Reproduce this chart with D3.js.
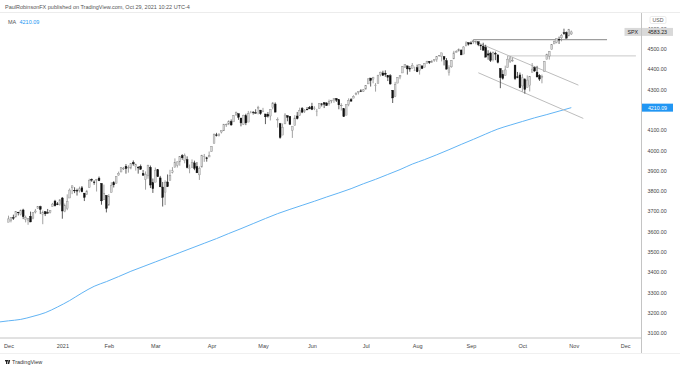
<!DOCTYPE html>
<html><head><meta charset="utf-8">
<script src="https://cdn.jsdelivr.net/npm/d3@7"></script>
<style>html,body{margin:0;padding:0;background:#fff;} svg{display:block;font-family:"Liberation Sans",Arial,sans-serif;}</style>
</head><body><svg id="chart" width="680" height="370"></svg>
<script>
// SPX daily candles, Dec 1 2020 .. Oct 29 2021 : [open, high, low, close]
const candles = [
[3646,3678,3646,3662],[3654,3671,3645,3669],[3668,3683,3657,3667],[3671,3699,3671,3699],[3695,3697,3679,3692],
[3683,3708,3679,3702],[3706,3712,3661,3673],[3659,3678,3645,3668],[3656,3666,3633,3663],[3675,3698,3646,3647],
[3666,3695,3660,3695],[3696,3711,3689,3701],[3714,3725,3711,3722],[3722,3727,3686,3709],[3684,3703,3636,3695],
[3698,3698,3676,3687],[3693,3711,3689,3690],[3694,3704,3689,3703],[3723,3741,3723,3735],[3750,3756,3723,3727],
[3736,3745,3730,3732],[3733,3760,3727,3756],
[3765,3770,3663,3701],[3698,3738,3695,3727],[3712,3783,3705,3748],[3765,3812,3765,3804],[3815,3827,3784,3825],
[3803,3818,3789,3800],[3802,3811,3777,3801],[3802,3821,3792,3810],[3815,3824,3793,3796],[3789,3789,3750,3768],
[3782,3805,3780,3799],[3816,3860,3816,3852],[3857,3861,3845,3853],[3844,3852,3830,3841],[3852,3859,3797,3855],
[3863,3871,3848,3850],[3837,3837,3732,3751],[3756,3831,3756,3787],[3778,3778,3694,3714],
[3731,3784,3726,3774],[3792,3843,3792,3826],[3840,3848,3817,3830],[3837,3872,3837,3872],[3878,3895,3875,3887],
[3893,3916,3893,3916],[3910,3918,3903,3911],[3921,3932,3885,3910],[3916,3926,3890,3916],[3912,3937,3906,3935],
[3940,3950,3924,3933],[3919,3934,3900,3931],[3916,3922,3885,3914],[3921,3930,3903,3907],[3886,3903,3875,3877],
[3857,3896,3806,3881],[3874,3929,3860,3925],[3916,3925,3814,3829],[3840,3861,3790,3811],
[3843,3915,3843,3902],[3904,3906,3869,3870],[3864,3874,3819,3820],[3819,3844,3723,3768],[3794,3852,3730,3842],
[3844,3881,3819,3821],[3852,3904,3852,3875],[3892,3917,3886,3899],[3916,3960,3916,3939],[3925,3945,3915,3943],
[3943,3970,3924,3969],[3974,3981,3953,3963],[3950,3984,3936,3974],[3954,3970,3911,3915],[3913,3930,3887,3913],
[3916,3955,3914,3941],[3938,3949,3902,3911],[3920,3942,3889,3889],[3879,3920,3854,3910],[3917,3978,3917,3975],
[3969,3982,3943,3971],[3963,3968,3944,3959],[3967,3994,3967,3973],
[3993,4021,3993,4020],[4034,4083,4034,4078],[4076,4086,4068,4074],[4074,4083,4068,4080],[4090,4098,4083,4097],
[4096,4129,4096,4129],[4125,4132,4115,4128],[4130,4148,4124,4142],[4142,4152,4121,4125],[4140,4173,4140,4170],
[4174,4191,4171,4185],[4180,4181,4150,4163],[4159,4159,4118,4135],[4128,4175,4126,4173],[4170,4180,4124,4135],
[4139,4194,4139,4180],[4185,4194,4182,4188],[4188,4193,4176,4187],[4185,4202,4182,4183],[4206,4219,4177,4211],
[4198,4198,4175,4181],
[4192,4209,4188,4193],[4179,4179,4129,4165],[4177,4188,4161,4168],[4169,4203,4147,4202],[4210,4238,4202,4233],
[4228,4236,4188,4188],[4150,4162,4112,4152],[4131,4135,4057,4063],[4075,4132,4075,4113],[4130,4183,4130,4174],
[4170,4172,4143,4163],[4166,4169,4126,4128],[4098,4117,4061,4116],[4122,4173,4122,4159],[4169,4189,4152,4156],
[4170,4210,4170,4197],[4206,4213,4183,4188],[4192,4203,4184,4196],[4202,4213,4198,4201],[4211,4218,4204,4204],
[4217,4234,4198,4202],[4207,4217,4198,4208],[4191,4204,4168,4193],[4206,4233,4206,4230],[4229,4232,4216,4227],
[4234,4237,4208,4227],[4233,4237,4219,4220],[4229,4250,4220,4239],[4243,4248,4232,4247],[4248,4256,4234,4255],
[4255,4257,4238,4247],[4249,4252,4202,4224],[4220,4232,4196,4222],[4205,4205,4164,4166],[4173,4226,4173,4225],
[4225,4256,4217,4246],[4249,4257,4241,4242],[4257,4271,4257,4266],[4274,4286,4271,4281],[4285,4292,4275,4291],
[4293,4301,4287,4292],[4291,4302,4288,4298],
[4301,4321,4301,4320],[4327,4355,4327,4352],[4356,4356,4314,4344],[4351,4362,4330,4358],[4321,4331,4289,4321],
[4329,4372,4329,4370],[4372,4387,4364,4385],[4381,4392,4367,4369],[4380,4394,4362,4374],[4369,4369,4341,4360],
[4367,4375,4323,4327],[4296,4296,4233,4258],[4265,4337,4262,4323],[4331,4360,4331,4359],[4361,4370,4350,4367],
[4381,4415,4381,4412],[4410,4423,4405,4422],[4416,4416,4373,4401],[4403,4415,4387,4401],[4404,4430,4404,4419],
[4395,4412,4390,4395],
[4407,4422,4385,4387],[4393,4424,4373,4423],[4416,4416,4400,4403],[4409,4430,4409,4429],[4429,4441,4429,4437],
[4438,4439,4425,4432],[4436,4445,4430,4437],[4442,4449,4436,4448],[4446,4462,4436,4461],[4465,4468,4461,4468],
[4462,4480,4438,4480],[4462,4462,4418,4448],[4441,4454,4398,4400],[4382,4419,4368,4406],[4411,4444,4407,4442],
[4450,4490,4450,4480],[4484,4493,4482,4486],[4490,4502,4486,4496],[4494,4496,4469,4470],[4474,4513,4474,4509],
[4514,4537,4514,4529],[4530,4531,4516,4523],
[4529,4537,4522,4524],[4534,4546,4525,4537],[4532,4541,4522,4535],[4535,4535,4513,4520],[4518,4522,4494,4514],
[4513,4530,4492,4493],[4507,4520,4458,4459],[4475,4493,4446,4469],[4479,4486,4435,4443],[4447,4487,4438,4481],
[4477,4486,4444,4474],[4470,4472,4428,4433],[4403,4403,4306,4358],[4374,4395,4348,4354],[4367,4417,4367,4396],
[4407,4465,4407,4449],[4438,4463,4430,4455],[4442,4457,4436,4443],[4420,4420,4346,4353],[4362,4386,4355,4359],
[4371,4383,4306,4308],
[4317,4375,4289,4357],[4349,4356,4279,4300],[4310,4369,4310,4346],[4320,4366,4290,4364],[4384,4430,4384,4400],
[4407,4412,4386,4391],[4385,4416,4361,4361],[4368,4375,4342,4351],[4358,4373,4330,4364],[4387,4440,4387,4438],
[4448,4476,4448,4471],[4464,4489,4447,4486],[4497,4520,4496,4520],[4524,4541,4524,4536],[4532,4551,4527,4550],
[4546,4560,4524,4545],[4554,4573,4537,4566],[4579,4599,4569,4575],[4580,4585,4552,4552],[4563,4598,4563,4596],
[4573,4590,4568,4583.23]
];
// 200-period moving average (bar index, value)
const maBars   = [-4,0,5,10,15,20,25,30,35,40,45,50,55,60,65,70,75,80,85,90,95,100,105,110,115,120,125,130,135,140,145,150,155,160,165,170,175,180,185,190,195,200,205,210,215,220,225,230];
const maValues = [3154,3160,3167,3182,3200,3228,3260,3297,3330,3353,3378,3404,3427,3450,3473,3496,3519,3542,3565,3590,3614,3639,3664,3688,3709,3729,3749,3770,3790,3811,3835,3857,3881,3905,3932,3954,3978,4003,4029,4054,4080,4105,4124,4142,4160,4176,4193,4210.09];
// price-axis labels (4200.00 sits under the MA value label in the reference)
const priceTicks = [3100,3200,3300,3400,3500,3600,3700,3800,3900,4000,4100,4300,4400,4500,4600];
const monthLabels = ["Dec","2021","Feb","Mar","Apr","May","Jun","Jul","Aug","Sep","Oct","Nov","Dec"];
const monthStartBars = [0,22,41,60,83,104,124,146,167,189,210,231,252];
// drawn lines: horizontal levels and falling channel (bar, value)
const levelLines = [[190,4545,244.6,4545],[204,4465,256.4,4465]];
const channelLines = [[189.3,4543,232.9,4321],[192,4382,234.9,4157]];
const lastPrice = 4583.23;
const maLast = 4210.09;

const svg = d3.select("#chart");
const W = 680, H = 370;
const plotL = 0, plotR = 641.5, plotT = 13, plotB = 338;
const x = d3.scaleLinear().domain([0, 252]).range([8.5, 8.5 + 252 * 2.447]);
const y = d3.scaleLinear().domain([3100, 4500]).range([333, 48.8]);

svg.append("rect").attr("width", W).attr("height", H).attr("fill", "#fff");
svg.append("defs").append("clipPath").attr("id", "clip")
  .append("rect").attr("x", plotL).attr("y", plotT).attr("width", plotR - plotL).attr("height", plotB - plotT);

// header
svg.append("text").attr("x", 5).attr("y", 9).attr("font-size", 5.5).attr("fill", "#555")
  .text("PaulRobinsonFX published on TradingView.com, Oct 29, 2021 10:22 UTC-4");
svg.append("line").attr("x1", 0).attr("x2", W).attr("y1", 12.5).attr("y2", 12.5).attr("stroke", "#ececec");

const plot = svg.append("g").attr("clip-path", "url(#clip)");

// MA line
const maLine = d3.line().x((d, i) => x(maBars[i])).y(d => y(d)).curve(d3.curveMonotoneX);
plot.append("path").datum(maValues).attr("d", maLine).attr("fill", "none")
  .attr("stroke", "#62b4f4").attr("stroke-width", 1);

// level and channel lines
plot.selectAll(".lvl").data(levelLines).join("line")
  .attr("x1", d => x(d[0])).attr("y1", d => y(d[1])).attr("x2", d => x(d[2])).attr("y2", d => y(d[3]))
  .attr("stroke", (d, i) => i === 0 ? "#9e9e9e" : "#c9c9c9").attr("stroke-width", (d, i) => i === 0 ? 1.3 : 1);
plot.selectAll(".chn").data(channelLines).join("line")
  .attr("x1", d => x(d[0])).attr("y1", d => y(d[1])).attr("x2", d => x(d[2])).attr("y2", d => y(d[3]))
  .attr("stroke", "#bdbdbd").attr("stroke-width", 1);

// candles
const cg = plot.append("g");
cg.selectAll(".wick").data(candles).join("line")
  .attr("x1", (d, i) => x(i)).attr("x2", (d, i) => x(i))
  .attr("y1", d => y(d[1])).attr("y2", d => y(d[2]))
  .attr("stroke", d => d[3] >= d[0] ? "#8a8a8a" : "#333").attr("stroke-width", 0.8);
cg.selectAll(".body").data(candles).join("rect")
  .attr("x", (d, i) => x(i) - 0.9).attr("width", 1.8)
  .attr("y", d => y(Math.max(d[0], d[3])))
  .attr("height", d => Math.max(0.6, Math.abs(y(d[0]) - y(d[3]))))
  .attr("fill", d => d[3] >= d[0] ? "#d6d6d6" : "#111")
  .attr("stroke", d => d[3] >= d[0] ? "#8a8a8a" : "#111").attr("stroke-width", 0.4);

// MA legend
const leg = svg.append("text").attr("x", 8).attr("y", 24).attr("font-size", 5.5);
leg.append("tspan").attr("fill", "#555").text("MA ");
leg.append("tspan").attr("fill", "#2196f3").attr("dx", 2).text(maLast.toFixed(2));

// axes
svg.append("line").attr("x1", plotR).attr("x2", plotR).attr("y1", plotT).attr("y2", H - 17)
  .attr("stroke", "#c4c4c4");
svg.append("line").attr("x1", 0).attr("x2", plotR).attr("y1", plotB).attr("y2", plotB)
  .attr("stroke", "#c4c4c4");

const ya = svg.append("g").attr("transform", `translate(${plotR},0)`)
  .call(d3.axisRight(y).tickValues(priceTicks).tickSize(0).tickPadding(6).tickFormat(d => d.toFixed(2)));
ya.select(".domain").remove();
ya.selectAll("text").attr("font-size", 5.3).attr("fill", "#444").attr("font-family", "Liberation Sans, Arial, sans-serif");

const xa = svg.append("g").attr("transform", `translate(0,${plotB})`)
  .call(d3.axisBottom(x).tickValues(monthStartBars).tickSize(0).tickPadding(6).tickFormat((d, i) => monthLabels[i]));
xa.select(".domain").remove();
xa.selectAll("text").attr("font-size", 5.5).attr("fill", "#444").attr("font-family", "Liberation Sans, Arial, sans-serif");

// USD box
svg.append("rect").attr("x", 650).attr("y", 16.5).attr("width", 16).attr("height", 7).attr("rx", 1.5)
  .attr("fill", "#fff").attr("stroke", "#ddd").attr("stroke-width", 0.6);
svg.append("text").attr("x", 658).attr("y", 21.8).attr("text-anchor", "middle").attr("font-size", 5.2)
  .attr("fill", "#555").text("USD");

// last price label
const ly = y(lastPrice);
svg.append("rect").attr("x", 624.5).attr("y", ly - 4).attr("width", 16.5).attr("height", 8).attr("fill", "#d9d9d9");
svg.append("text").attr("x", 632.7).attr("y", ly + 1.9).attr("text-anchor", "middle").attr("font-size", 5.3)
  .attr("fill", "#222").text("SPX");
svg.append("rect").attr("x", 642).attr("y", ly - 4).attr("width", 31).attr("height", 8).attr("fill", "#d9d9d9");
svg.append("text").attr("x", 657.5).attr("y", ly + 1.9).attr("text-anchor", "middle").attr("font-size", 5.3)
  .attr("fill", "#222").text(lastPrice.toFixed(2));

// MA price label
const my = y(maLast);
svg.append("rect").attr("x", 642).attr("y", my - 4).attr("width", 31).attr("height", 8).attr("fill", "#2196f3");
svg.append("text").attr("x", 657.5).attr("y", my + 1.9).attr("text-anchor", "middle").attr("font-size", 5.3)
  .attr("fill", "#fff").text(maLast.toFixed(2));

// footer
svg.append("line").attr("x1", 0).attr("x2", W).attr("y1", 353.5).attr("y2", 353.5).attr("stroke", "#f0f0f0");
const logo = svg.append("g").attr("transform", "translate(5,360)").attr("fill", "#222");
logo.append("rect").attr("x", 0).attr("y", 0).attr("width", 3).attr("height", 1.4);
logo.append("rect").attr("x", 1).attr("y", 0).attr("width", 1.3).attr("height", 4);
logo.append("path").attr("d", "M3.6,0 L5.2,0 L4.2,4 L2.8,4 Z");
logo.append("circle").attr("cx", 4.3).attr("cy", 0.8).attr("r", 0.7);
svg.append("text").attr("x", 12).attr("y", 364.2).attr("font-size", 5.5).attr("fill", "#333").text("TradingView");
</script></body></html>
